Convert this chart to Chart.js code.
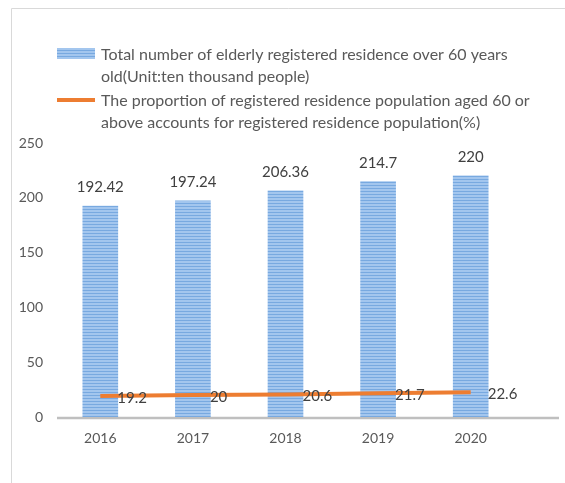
<!DOCTYPE html>
<html>
<head>
<meta charset="utf-8">
<script src="https://cdn.jsdelivr.net/npm/chart.js@4"></script>
<style>
  html, body { margin: 0; padding: 0; background: #fff; }
  canvas { display: block; }
</style>
</head>
<body>
<canvas id="myChart" width="565" height="483"></canvas>
<script>
const years = ['2016', '2017', '2018', '2019', '2020'];
const elderlyTotal = [192.42, 197.24, 206.36, 214.7, 220];
const elderlyShare = [19.2, 20, 20.6, 21.7, 22.6];
const yTicks = [0, 50, 100, 150, 200, 250];
const legendBar = ['Total number of elderly registered residence over 60 years', 'old(Unit:ten thousand people)'];
const legendLine = ['The proportion of registered residence population aged 60 or', 'above accounts for registered residence population(%)'];

const FONT = 'Lato, "Liberation Sans", sans-serif';

// striped blue fill like the original
function stripes() {
  const c = document.createElement('canvas');
  c.width = 4; c.height = 3;
  const g = c.getContext('2d');
  g.fillStyle = '#a3c6ee'; g.fillRect(0, 0, 4, 3);
  g.fillStyle = '#78a9e0'; g.fillRect(0, 2, 4, 1);
  return g.createPattern(c, 'repeat');
}

const ctx = document.getElementById('myChart');
const barFill = stripes();

const extras = {
  id: 'extras',
  beforeDraw(chart) {
    const c = chart.ctx;
    c.save();
    c.strokeStyle = '#d9d9d9';
    c.lineWidth = 1;
    c.beginPath();
    c.moveTo(11.5, chart.height);
    c.lineTo(11.5, 8.5);
    c.lineTo(chart.width, 8.5);
    c.stroke();
    c.restore();
  },
  beforeDatasetsDraw(chart) {
    const c = chart.ctx;
    const y0 = chart.scales.y.getPixelForValue(0);
    c.save();
    c.strokeStyle = '#bfbfbf';
    c.lineWidth = 2.5;
    c.beginPath();
    c.moveTo(chart.chartArea.left + 3, y0 + 1);
    c.lineTo(559, y0 + 1);
    c.stroke();
    c.restore();
  },
  afterDraw(chart) {
    const c = chart.ctx;
    c.save();
    c.font = '15px ' + FONT;
    c.fillStyle = '#404040';
    // bar values
    c.textAlign = 'center';
    c.textBaseline = 'middle';
    chart.getDatasetMeta(0).data.forEach((el, i) => {
      c.fillText(String(elderlyTotal[i]), el.x, el.y - 19);
    });
    // line values
    c.textAlign = 'left';
    chart.getDatasetMeta(1).data.forEach((el, i) => {
      c.fillText(String(elderlyShare[i]), el.x + 17, el.y + 2);
    });
    // legend
    c.fillStyle = barFill;
    c.fillRect(57, 48, 38, 11);
    c.strokeStyle = '#ed7d31';
    c.lineWidth = 4;
    c.beginPath();
    c.moveTo(57, 100);
    c.lineTo(95, 100);
    c.stroke();
    c.fillStyle = '#595959';
    c.font = '16px ' + FONT;
    legendBar.forEach((t, i) => c.fillText(t, 101, 55 + i * 22));
    legendLine.forEach((t, i) => c.fillText(t, 101, 101 + i * 22));
    c.restore();
  }
};

new Chart(ctx, {
  data: {
    labels: years,
    datasets: [{
      type: 'bar',
      label: legendBar.join(' '),
      data: elderlyTotal,
      backgroundColor: barFill,
      barThickness: 35,
      order: 1
    },
    {
      type: 'line',
      label: legendLine.join(' '),
      data: elderlyShare,
      borderColor: '#ed7d31',
      borderWidth: 4,
      pointRadius: 0,
      tension: 0,
      order: 0
    }]
  },
  options: {
    responsive: false,
    animation: false,
    layout: { padding: { top: 143, bottom: 21, right: 48, left: 0 } },
    plugins: {
      legend: { display: false },
      tooltip: { enabled: false }
    },
    scales: {
      x: {
        grid: { display: false, drawTicks: false },
        border: { display: false },
        ticks: { color: '#595959', font: { family: FONT, size: 14 }, padding: 13 },
        afterFit(s) { s.height = 45; }
      },
      y: {
        min: 0,
        max: 250,
        grid: { display: false, drawTicks: false },
        border: { display: false },
        afterBuildTicks(s) { s.ticks = yTicks.map(v => ({ value: v })); },
        ticks: { color: '#595959', font: { family: FONT, size: 14 }, padding: 11 },
        afterFit(s) { s.width = 54; }
      }
    }
  },
  plugins: [extras]
});
</script>
</body>
</html>
